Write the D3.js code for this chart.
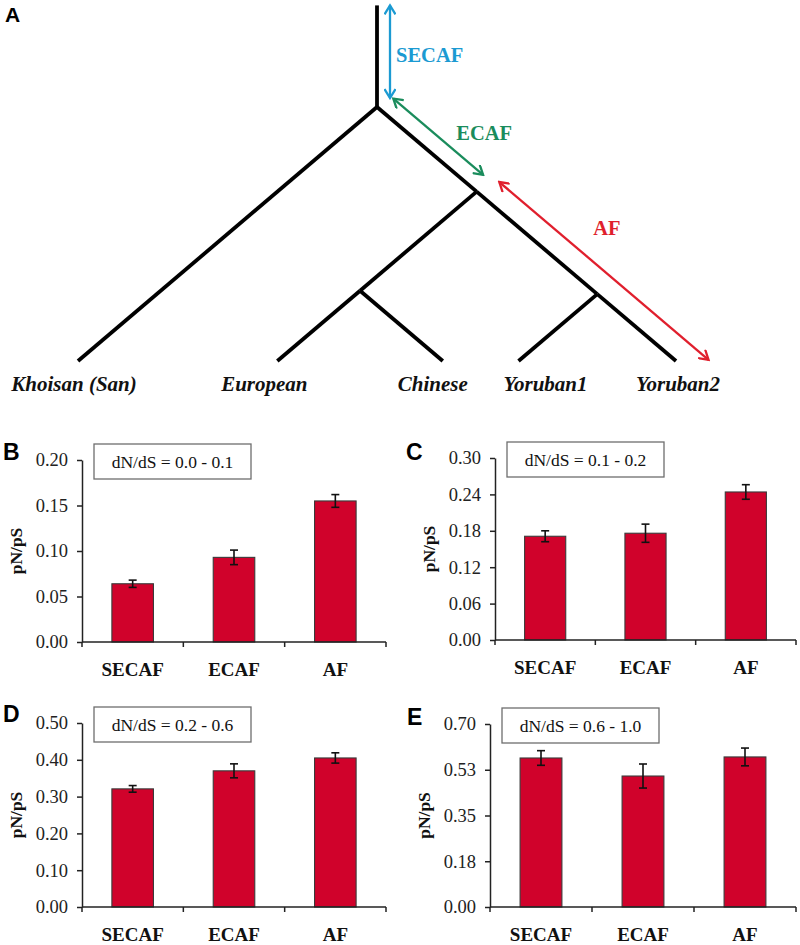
<!DOCTYPE html>
<html>
<head>
<meta charset="utf-8">
<script src="https://cdn.jsdelivr.net/npm/d3@7/dist/d3.min.js"></script>
<style>
  html, body { margin: 0; padding: 0; background: #ffffff; }
  svg { display: block; }
</style>
</head>
<body>
<script>
// ---------------- DATA ----------------
// Panel A: cladogram
const taxa = ["Khoisan (San)", "European", "Chinese", "Yoruban1", "Yoruban2"];
const leafPositions = [0, 1, 1.83, 2.21, 3.0];      // relative leaf spacing
const treeTopology = [0, [[1, 2], [3, 4]]];          // nested clades (indices into taxa)
const rootStemLength = 0.6;                          // stem above root (same units as half-spread)
const branchLabels = ["SECAF", "ECAF", "AF"];
const branchColors = ["#1b9ad2", "#1a8c5c", "#e01f2d"];

// Panels B-E
const categories = ["SECAF", "ECAF", "AF"];
const panelIds = ["B", "C", "D", "E"];
const dnDsRanges = ["dN/dS = 0.0 - 0.1", "dN/dS = 0.1 - 0.2", "dN/dS = 0.2 - 0.6", "dN/dS = 0.6 - 1.0"];

const valuesB = [0.064, 0.093, 0.155];
const errorsB = [0.004, 0.008, 0.007];
const valuesC = [0.171, 0.176, 0.244];
const errorsC = [0.009, 0.015, 0.012];
const valuesD = [0.321, 0.370, 0.405];
const errorsD = [0.009, 0.019, 0.014];
const valuesE = [0.570, 0.501, 0.574];
const errorsE = [0.028, 0.046, 0.034];

const ticksB = [0, 0.05, 0.10, 0.15, 0.20];
const tickLabelsB = ["0.00", "0.05", "0.10", "0.15", "0.20"];
const ticksC = [0, 0.06, 0.12, 0.18, 0.24, 0.30];
const tickLabelsC = ["0.00", "0.06", "0.12", "0.18", "0.24", "0.30"];
const ticksD = [0, 0.1, 0.2, 0.3, 0.4, 0.5];
const tickLabelsD = ["0.00", "0.10", "0.20", "0.30", "0.40", "0.50"];
const ticksE = [0, 0.175, 0.35, 0.525, 0.70];
const tickLabelsE = ["0.00", "0.18", "0.35", "0.53", "0.70"];

const yAxisTitle = "pN/pS";

// ---------------- DRAWING ----------------
const W = 800, H = 945;
const SERIF = "'Liberation Serif', 'Times New Roman', serif";
const SANS = "'Liberation Sans', Arial, sans-serif";

const svg = d3.select("body").append("svg")
  .attr("width", W).attr("height", H)
  .attr("viewBox", `0 0 ${W} ${H}`);
svg.append("rect").attr("width", W).attr("height", H).attr("fill", "#fff");

// ----- Panel A -----
svg.append("text").attr("x", 5).attr("y", 22)
  .attr("font-family", SANS).attr("font-weight", "bold").attr("font-size", 21)
  .attr("fill", "#000").text("A");

const xs = d3.scaleLinear().domain([0, 3]).range([78, 676]);
const ys = d3.scaleLinear().domain([0, 1.5]).range([361, 107]);

const root = d3.hierarchy(treeTopology, d => Array.isArray(d) ? d : null);
root.each(n => {
  const ls = n.leaves().map(l => leafPositions[l.data]);
  const lo = d3.min(ls), hi = d3.max(ls);
  n.pos = (lo + hi) / 2;
  n.spread = (hi - lo) / 2;
  n.px = xs(n.pos);
  n.py = ys(n.spread);
});

const treeG = svg.append("g");
// stem
treeG.append("line")
  .attr("x1", root.px).attr("y1", ys(root.spread + rootStemLength))
  .attr("x2", root.px).attr("y2", root.py)
  .attr("stroke", "#000").attr("stroke-width", 3.8);
// branches
treeG.selectAll("line.branch").data(root.links()).join("line")
  .attr("class", "branch")
  .attr("x1", d => d.source.px).attr("y1", d => d.source.py)
  .attr("x2", d => d.target.px).attr("y2", d => d.target.py)
  .attr("stroke", "#000").attr("stroke-width", 3.8).attr("stroke-linecap", "butt");

// leaf labels
const labelDx = [-4, -13, -10, 27, 2];
treeG.selectAll("text.taxon").data(root.leaves()).join("text")
  .attr("class", "taxon")
  .attr("x", d => d.px + labelDx[d.data])
  .attr("y", 391)
  .attr("text-anchor", "middle")
  .attr("font-family", SERIF).attr("font-weight", "bold").attr("font-style", "italic")
  .attr("font-size", 21).attr("fill", "#111")
  .text(d => taxa[d.data]);

// arrow markers
const defs = svg.append("defs");
branchColors.forEach((c, i) => {
  defs.append("marker")
    .attr("id", "arr" + i)
    .attr("viewBox", "-10 -6 12 12")
    .attr("refX", 0).attr("refY", 0)
    .attr("markerWidth", 12).attr("markerHeight", 12)
    .attr("markerUnits", "userSpaceOnUse")
    .attr("orient", "auto-start-reverse")
    .append("path")
    .attr("d", "M-9,-5.5 L0,0 L-9,5.5")
    .attr("fill", "none").attr("stroke", c).attr("stroke-width", 2.3)
    .attr("stroke-linejoin", "miter");
});

function offsetSeg(a, b, perp, startAlong, endAlong) {
  const dx = b[0] - a[0], dy = b[1] - a[1];
  const L = Math.hypot(dx, dy);
  const u = [dx / L, dy / L];
  const n = [u[1], -u[0]];
  return [
    [a[0] + u[0] * startAlong + n[0] * perp, a[1] + u[1] * startAlong + n[1] * perp],
    [b[0] + u[0] * endAlong + n[0] * perp, b[1] + u[1] * endAlong + n[1] * perp]
  ];
}

const innerNode = root.children[1];
const lastLeaf = root.leaves()[root.leaves().length - 1];
const stemTop = [root.px, ys(root.spread + rootStemLength)];
const arrows = [
  [[root.px + 13, stemTop[1]], [root.px + 13, root.py - 9]],
  offsetSeg([root.px, root.py], [innerNode.px, innerNode.py], 17, 7, -6),
  offsetSeg([innerNode.px, innerNode.py], [lastLeaf.px, lastLeaf.py], 22, 11, 24)
];
const labelOffsets = [[6, 3], [46, -4], [3, -43]];

arrows.forEach((seg, i) => {
  svg.append("line")
    .attr("x1", seg[0][0]).attr("y1", seg[0][1])
    .attr("x2", seg[1][0]).attr("y2", seg[1][1])
    .attr("stroke", branchColors[i]).attr("stroke-width", 2.3)
    .attr("marker-start", `url(#arr${i})`).attr("marker-end", `url(#arr${i})`);
  const mx = (seg[0][0] + seg[1][0]) / 2, my = (seg[0][1] + seg[1][1]) / 2;
  svg.append("text")
    .attr("x", mx + labelOffsets[i][0]).attr("y", my + labelOffsets[i][1])
    .attr("text-anchor", i === 0 ? "start" : "middle")
    .attr("dominant-baseline", "central")
    .attr("font-family", SERIF).attr("font-weight", "bold").attr("font-size", 20.5)
    .attr("fill", branchColors[i])
    .text(branchLabels[i]);
});

// ----- Panels B-E -----
const panelData = [
  { values: valuesB, errors: errorsB, ticks: ticksB, tickLabels: tickLabelsB },
  { values: valuesC, errors: errorsC, ticks: ticksC, tickLabels: tickLabelsC },
  { values: valuesD, errors: errorsD, ticks: ticksD, tickLabels: tickLabelsD },
  { values: valuesE, errors: errorsE, ticks: ticksE, tickLabels: tickLabelsE }
];
const panelLayout = [
  { left: 82, right: 386, bottom: 642, top: 460, letterX: 3, letterY: 460 },
  { left: 495, right: 796, bottom: 640, top: 458, letterX: 406, letterY: 460 },
  { left: 82, right: 386, bottom: 907, top: 723, letterX: 3, letterY: 722 },
  { left: 490, right: 796, bottom: 907, top: 724, letterX: 407, letterY: 725 }
];

panelData.forEach((pd, i) => {
  const L = panelLayout[i];
  const g = svg.append("g");
  const x = d3.scaleBand().domain(categories).range([L.left, L.right]).padding(0);
  const y = d3.scaleLinear().domain([0, d3.max(pd.ticks)]).range([L.bottom, L.top]);

  // letter
  g.append("text").attr("x", L.letterX).attr("y", L.letterY)
    .attr("font-family", SANS).attr("font-weight", "bold").attr("font-size", 23)
    .attr("fill", "#000").text(panelIds[i]);

  // bars
  const bw = x.bandwidth() * 0.41;
  const rows = categories.map((c, j) => ({ c, v: pd.values[j], e: pd.errors[j] }));
  g.selectAll("rect.bar").data(rows).join("rect")
    .attr("class", "bar")
    .attr("x", d => x(d.c) + (x.bandwidth() - bw) / 2)
    .attr("y", d => y(d.v))
    .attr("width", bw)
    .attr("height", d => y(0) - y(d.v))
    .attr("fill", "#d0022b")
    .attr("stroke", "#3a3a3a").attr("stroke-width", 1.1);

  // error bars
  const eg = g.selectAll("g.err").data(rows).join("g").attr("class", "err")
    .attr("stroke", "#111").attr("stroke-width", 1.6);
  eg.append("line")
    .attr("x1", d => x(d.c) + x.bandwidth() / 2).attr("x2", d => x(d.c) + x.bandwidth() / 2)
    .attr("y1", d => y(d.v + d.e)).attr("y2", d => y(d.v - d.e));
  eg.append("line")
    .attr("x1", d => x(d.c) + x.bandwidth() / 2 - 4).attr("x2", d => x(d.c) + x.bandwidth() / 2 + 4)
    .attr("y1", d => y(d.v + d.e)).attr("y2", d => y(d.v + d.e));
  eg.append("line")
    .attr("x1", d => x(d.c) + x.bandwidth() / 2 - 4).attr("x2", d => x(d.c) + x.bandwidth() / 2 + 4)
    .attr("y1", d => y(d.v - d.e)).attr("y2", d => y(d.v - d.e));

  // y axis
  const yAxis = d3.axisLeft(y).tickValues(pd.ticks)
    .tickFormat((d, k) => pd.tickLabels[k])
    .tickSize(5).tickSizeOuter(0).tickPadding(9);
  const ya = g.append("g").attr("transform", `translate(${L.left},0)`).call(yAxis);
  ya.select(".domain").attr("stroke", "#222").attr("stroke-width", 1.5);
  ya.selectAll(".tick line").attr("stroke", "#222").attr("stroke-width", 1.5);
  ya.selectAll(".tick text")
    .attr("font-family", SERIF).attr("font-size", 18.5).attr("fill", "#222");

  // x axis
  g.append("line").attr("x1", L.left).attr("x2", L.right)
    .attr("y1", L.bottom).attr("y2", L.bottom)
    .attr("stroke", "#222").attr("stroke-width", 1.5);
  const bounds = categories.map(c => x(c)).concat([x.range()[1]]);
  g.selectAll("line.xt").data(bounds).join("line").attr("class", "xt")
    .attr("x1", d => d).attr("x2", d => d)
    .attr("y1", L.bottom).attr("y2", L.bottom + 5)
    .attr("stroke", "#222").attr("stroke-width", 1.5);
  g.selectAll("text.cat").data(categories).join("text").attr("class", "cat")
    .attr("x", d => x(d) + x.bandwidth() / 2)
    .attr("y", L.bottom + 34)
    .attr("text-anchor", "middle")
    .attr("font-family", SERIF).attr("font-weight", "bold").attr("font-size", 19)
    .attr("fill", "#111").text(d => d);

  // y title
  g.append("text")
    .attr("transform", `translate(${L.left - 60},${(L.top + L.bottom) / 2}) rotate(-90)`)
    .attr("text-anchor", "middle")
    .attr("font-family", SERIF).attr("font-weight", "bold").attr("font-size", 17.5)
    .attr("fill", "#111").text(yAxisTitle);

  // range box
  const bx = L.left + 12, by = L.top - 16, bwid = 157, bh = 35;
  g.append("rect").attr("x", bx).attr("y", by).attr("width", bwid).attr("height", bh)
    .attr("fill", "#fff").attr("stroke", "#6e6e6e").attr("stroke-width", 1.3);
  g.append("text").attr("x", bx + bwid / 2).attr("y", by + bh / 2)
    .attr("text-anchor", "middle").attr("dominant-baseline", "central")
    .attr("font-family", SERIF).attr("font-size", 17.5).attr("fill", "#111")
    .text(dnDsRanges[i]);
});
</script>
</body>
</html>
